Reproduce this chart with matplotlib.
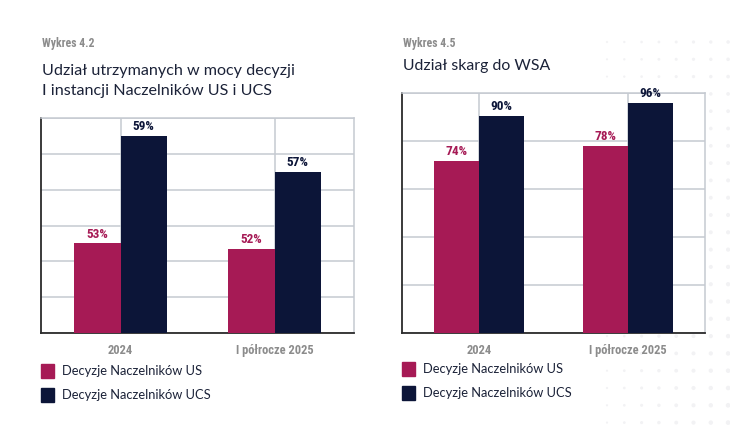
import matplotlib
matplotlib.use("Agg")
import matplotlib.pyplot as plt
import matplotlib.patches as mpatches
import numpy as np

# ---- data ----
categories = ["2024", "I półrocze 2025"]
series_names = ["Decyzje Naczelników US", "Decyzje Naczelników UCS"]

left_us = [53, 52.7]
left_ucs = [59, 57]
left_us_labels = ["53%", "52%"]
left_ucs_labels = ["59%", "57%"]

right_us = [71.7, 78]
right_ucs = [90.5, 95.8]
right_us_labels = ["74%", "78%"]
right_ucs_labels = ["90%", "96%"]

PINK = "#a61a55"
NAVY = "#0c1538"
GRID = "#c5cad1"
TITLE_C = "#1b2238"
GRAY = "#8c8c8c"

W, H = 730, 443
fig = plt.figure(figsize=(W / 100, H / 100), dpi=100)
fig.patch.set_facecolor("white")

# faint decorative dots on the right
bg = fig.add_axes([0, 0, 1, 1], zorder=-10)
bg.set_xlim(0, W); bg.set_ylim(H, 0); bg.axis("off")
xs = np.arange(607, 735, 17.3)
ys = np.arange(42, 425, 17.3)
for x in xs:
    for y in ys:
        s = 2 + 10 * ((x - 600) / 130) * (0.4 + 0.6 * (y / 443))
        bg.scatter([x], [y], s=s, color="#f2f2f4", edgecolors="none")

COND = ["Liberation Sans Narrow", "Roboto Condensed", "DejaVu Sans Condensed", "Roboto"]
TITLEF = ["Lato", "DejaVu Sans"]


def px_axes(x0, y0, x1, y1):
    return fig.add_axes([x0 / W, 1 - y1 / H, (x1 - x0) / W, (y1 - y0) / H])


def panel(ax, us, ucs, us_lab, ucs_lab, ylim, step):
    x = np.arange(len(categories))
    bw = 0.3
    ax.bar(x - bw / 2, us, bw, color=PINK, zorder=3)
    ax.bar(x + bw / 2, ucs, bw, color=NAVY, zorder=3)
    ax.set_xlim(-0.517, 1.515)
    ax.set_ylim(*ylim)
    ax.set_yticks(np.arange(ylim[0], ylim[1] + 0.01, step))
    ax.set_xticks(x)
    ax.set_xticklabels(categories, family=COND, fontsize=9, fontweight="bold", color=GRAY)
    ax.tick_params(axis="both", length=0)
    ax.tick_params(axis="x", pad=8)
    ax.set_yticklabels([])
    ax.grid(True, color=GRID, linewidth=1.1, zorder=0)
    for s in ["top", "right"]:
        ax.spines[s].set_color(GRID)
        ax.spines[s].set_linewidth(1.1)
    for s in ["left", "bottom"]:
        ax.spines[s].set_color("#2b2b2b")
        ax.spines[s].set_linewidth(1.3)
    rng = ylim[1] - ylim[0]
    for i in range(len(x)):
        ax.text(x[i] - bw / 2, us[i] + rng * 0.012, us_lab[i], ha="center", va="bottom",
                family=COND, fontsize=9.5, fontweight="bold", color=PINK, zorder=4)
        ax.text(x[i] + bw / 2, ucs[i] + rng * 0.012, ucs_lab[i], ha="center", va="bottom",
                family=COND, fontsize=9.5, fontweight="bold", color=NAVY, zorder=4, clip_on=False)


axL = px_axes(41, 118, 354, 333)
panel(axL, left_us, left_ucs, left_us_labels, left_ucs_labels, (48, 60), 2)
axR = px_axes(402, 93, 705, 333)
panel(axR, right_us, right_ucs, right_us_labels, right_ucs_labels, (0, 100), 20)

# titles
def ftext(x, y, s, **kw):
    fig.text(x / W, 1 - y / H, s, **kw)

ftext(42, 44, "Wykres 4.2", family=COND, fontsize=8.5, fontweight="bold", color=GRAY, va="center")
ftext(42, 71, "Udział utrzymanych w mocy decyzji", family=TITLEF, fontsize=11.6, color=TITLE_C, va="center")
ftext(42, 91, "I instancji Naczelników US i UCS", family=TITLEF, fontsize=11.6, color=TITLE_C, va="center")
ftext(403, 44, "Wykres 4.5", family=COND, fontsize=8.5, fontweight="bold", color=GRAY, va="center")
ftext(403, 66, "Udział skarg do WSA", family=TITLEF, fontsize=11.4, color=TITLE_C, va="center")

# legends
def legend(x0, y0):
    for i, (name, col) in enumerate(zip(series_names, [PINK, NAVY])):
        y = y0 + i * 24
        r = mpatches.Rectangle(((x0) / W, 1 - (y + 7) / H), 13 / W, 14 / H,
                               transform=fig.transFigure, color=col, zorder=5)
        fig.patches.append(r)
        ftext(x0 + 21, y, name, family=TITLEF, fontsize=9.3, color=TITLE_C, va="center")

legend(41, 371)
legend(402, 369)

fig.savefig("out.png", dpi=100, facecolor="white")
